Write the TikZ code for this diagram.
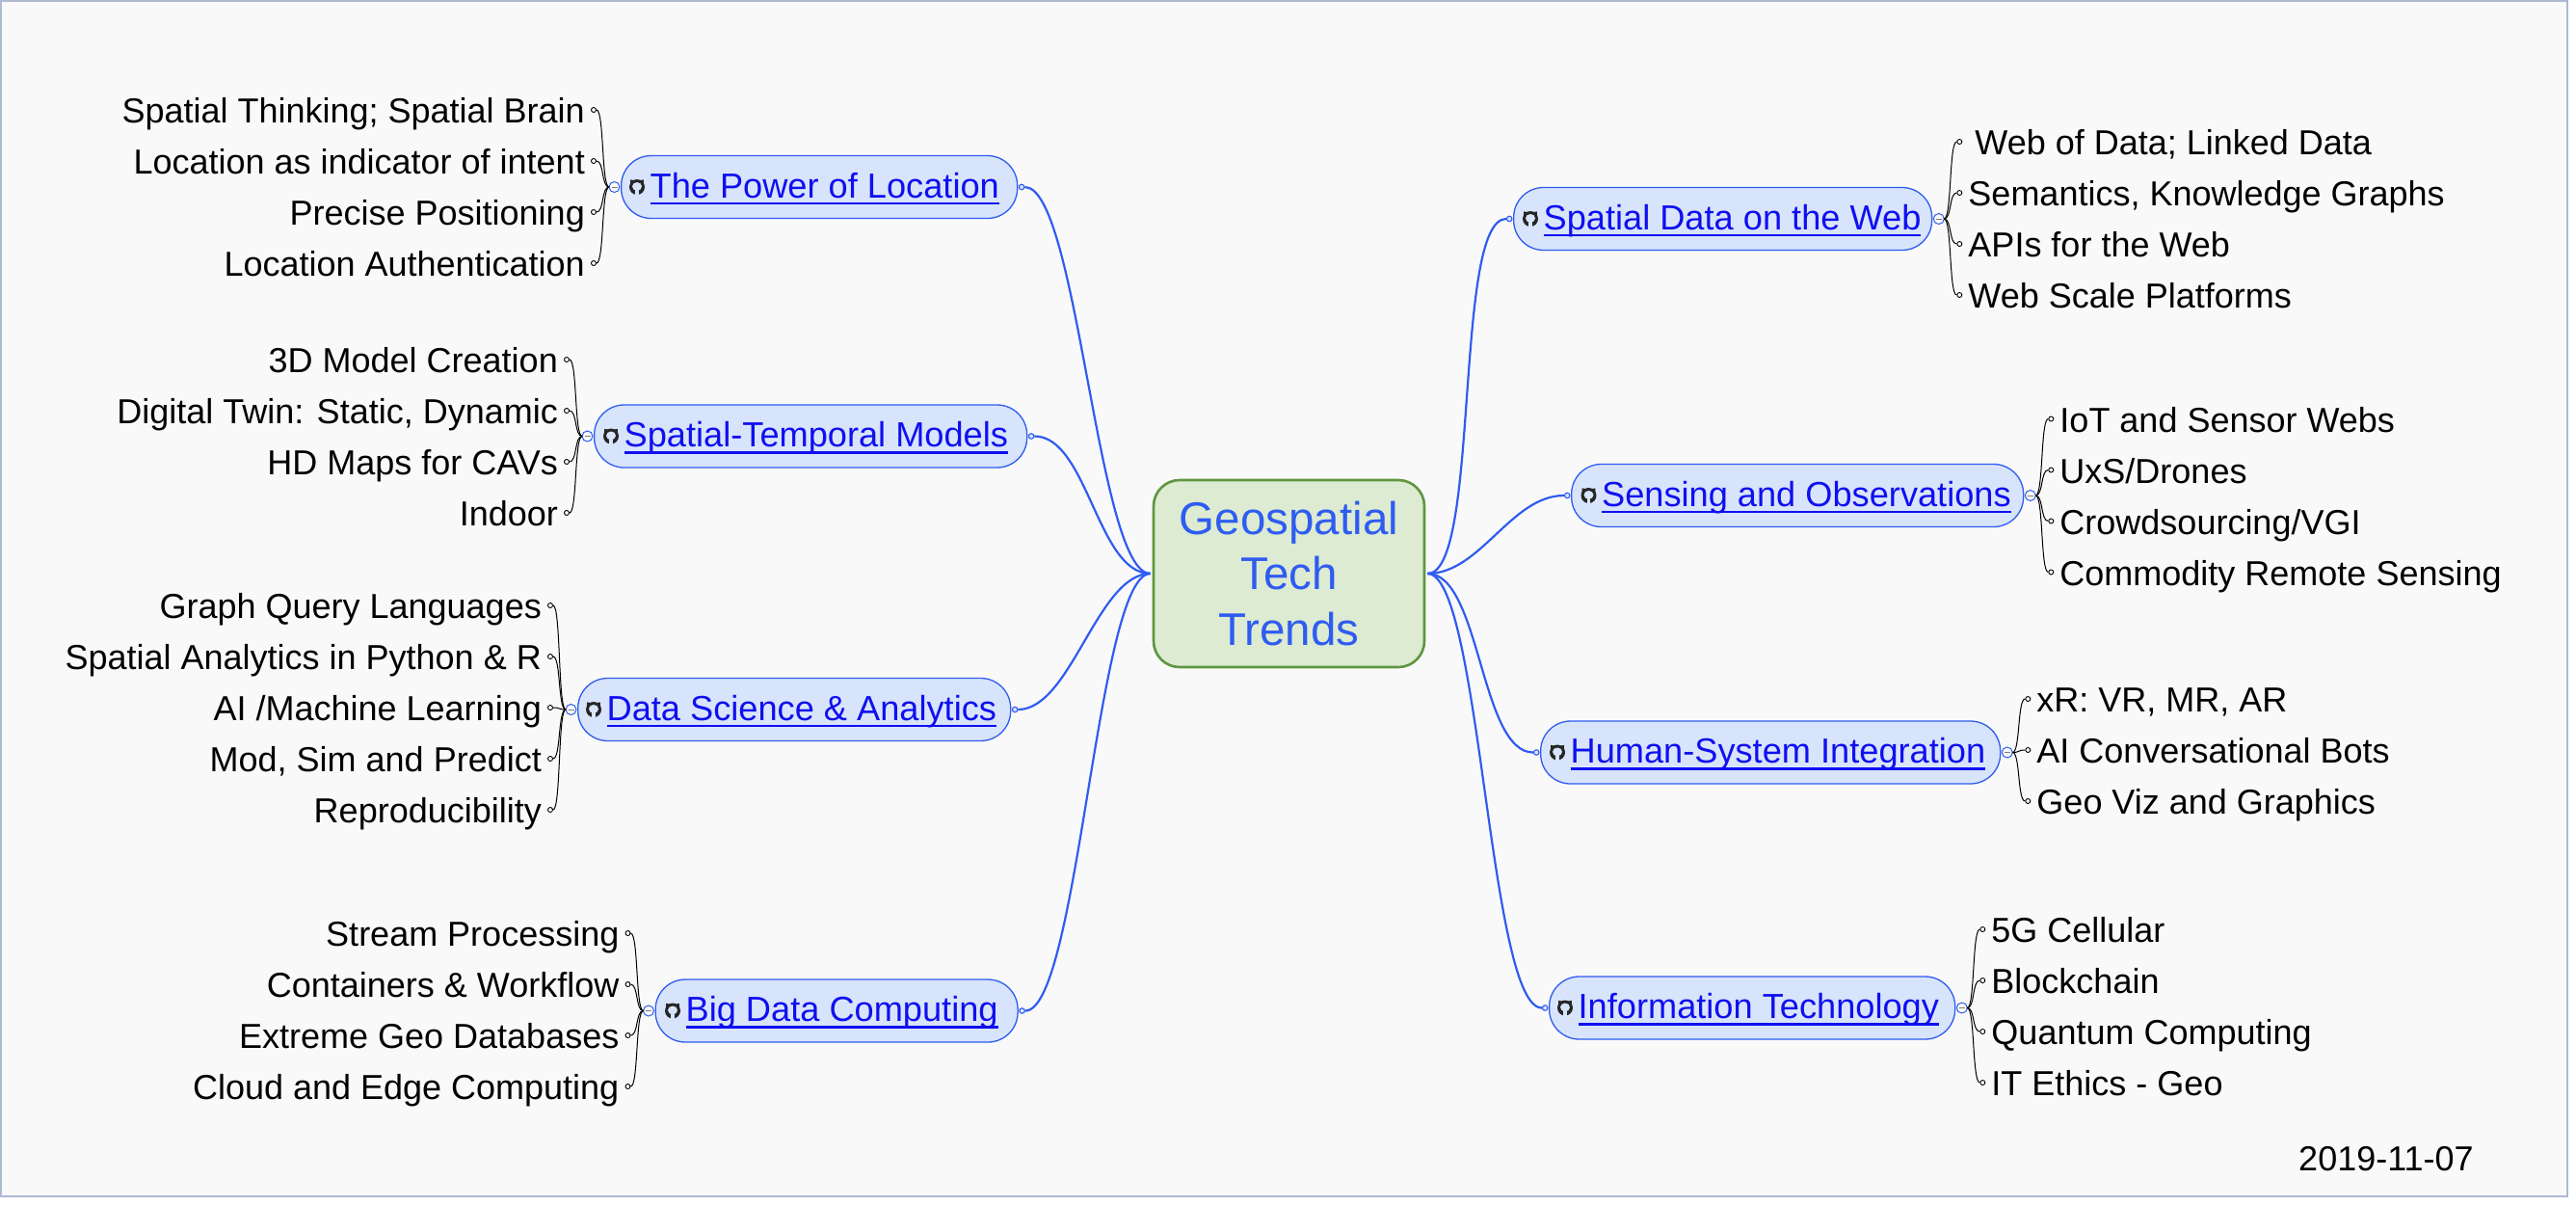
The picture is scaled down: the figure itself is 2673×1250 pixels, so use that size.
\documentclass[tikz,border=0pt]{standalone}
\usepackage{fontspec}
\setmainfont{Liberation Sans}
\definecolor{bgc}{HTML}{F9F9F9}
\definecolor{framec}{HTML}{AEB9D3}
\definecolor{linkc}{HTML}{0F0FF0}
\definecolor{lineb}{HTML}{2F5CF0}
\definecolor{fillb}{HTML}{D8E4FB}
\definecolor{fillc}{HTML}{DCEBD2}
\definecolor{edgec}{HTML}{5E9640}
\tikzset{
  x=1pt,y=-1pt,
  branchbox/.style={draw=lineb,fill=fillb,line width=1.3pt,rounded corners=31pt,minimum height=65pt,inner sep=0pt,anchor=west,text height=27pt,text depth=5pt,text=linkc,font=\fontsize{36.2}{40}\selectfont},
  centerbox/.style={draw=edgec,fill=fillc,line width=2.6pt,rounded corners=27pt,minimum width=281pt,minimum height=194pt,inner sep=0pt,align=center,text=lineb,font=\fontsize{47.5}{57.5}\selectfont},
  leaftext/.style={inner sep=0pt,font=\fontsize{36}{40}\selectfont,text=black},
  leafdot/.style={circle,draw=black,fill=white,line width=.9pt,inner sep=0pt,minimum size=5pt},
  attachdot/.style={circle,draw=lineb,fill=fillb,line width=1.1pt,inner sep=0pt,minimum size=5.5pt},
  foldbtn/.style={circle,draw=lineb,fill=bgc,line width=1pt,inner sep=0pt,minimum size=11pt},
  leafline/.style={draw=black,line width=1pt},
  mainline/.style={draw=lineb,line width=2.2pt},
}
\newcommand{\ulink}[1]{\setbox0\hbox{#1}\rlap{\rule[-7pt]{\wd0}{2.2pt}}\box0}
\newcommand{\ghicon}[2]{%
  \begin{scope}[shift={(#1,#2)}]
    \fill[black!85] (0,0) circle (8pt);
    \fill[black!85] (-6.8,-7.6) -- (-2.5,-6.8) -- (-6.8,-2.5) -- cycle;
    \fill[black!85] (6.8,-7.6) -- (2.5,-6.8) -- (6.8,-2.5) -- cycle;
    \fill[fillb] (0,-.6) ellipse (5pt and 4.4pt);
    \fill[fillb] (-1.6,2) rectangle (1.6,8.5);
  \end{scope}}
% name, left x, width, centre y, text offset, text
\newcommand{\branch}[6]{%
  \node[branchbox] (#1) at (#2,#4) {\makebox[#3pt][l]{\hspace*{#5pt}\ulink{#6}}};
  \pgfmathsetmacro{\iconx}{#2+#5-13}
  \ghicon{\iconx}{#4}}
\newcommand{\foldL}[1]{%
  \node[foldbtn,anchor=east] (#1f) at ([xshift=-.5pt]#1.west) {};
  \draw[gray,line width=.8pt] ([xshift=-3pt]#1f.center) -- ([xshift=3pt]#1f.center);
  \coordinate (#1h) at ([xshift=-12pt]#1.west);
  \node[attachdot,anchor=west] (#1a) at ([xshift=.5pt]#1.east) {};}
\newcommand{\foldR}[1]{%
  \node[foldbtn,anchor=west] (#1f) at ([xshift=.5pt]#1.east) {};
  \draw[gray,line width=.8pt] ([xshift=-3pt]#1f.center) -- ([xshift=3pt]#1f.center);
  \coordinate (#1h) at ([xshift=12pt]#1.east);
  \node[attachdot,anchor=east] (#1a) at ([xshift=-.5pt]#1.west) {};}
% name, hub, y, text
\newcommand{\leafL}[4]{%
  \node[leafdot] (#1d) at ([xshift=-16pt]#2h |- 0,#3) {};
  \node[leaftext,anchor=base east] (#1) at ([xshift=-6pt,yshift=-13.5pt]#1d.west) {#4};
  \draw[leafline] (#2h) .. controls +(-8,0) and +(8,0) .. (#1d.east);}
\newcommand{\leafR}[4]{%
  \node[leafdot] (#1d) at ([xshift=16pt]#2h |- 0,#3) {};
  \node[leaftext,anchor=base west] (#1) at ([xshift=6pt,yshift=-13.5pt]#1d.east) {#4};
  \draw[leafline] (#2h) .. controls +(8,0) and +(-8,0) .. (#1d.west);}
\begin{document}
\begin{tikzpicture}
\useasboundingbox (0,0) rectangle (2673,1250);
\fill[white] (0,0) rectangle (2673,1250);
\draw[fill=bgc,draw=framec,line width=1.5pt] (1,1) rectangle (2664,1241);

\node[centerbox] (geo) at (1337.5,595) {Geospatial\\Tech\\Trends};
\coordinate (geoL) at ([xshift=-2pt]geo.west);
\coordinate (geoR) at ([xshift=2pt]geo.east);

\branch{power}{644}{411}{194}{30}{The Power of Location}
\branch{stm}{616}{449}{452.5}{31}{Spatial-Temporal Models}
\branch{dsa}{599}{449}{736}{30}{Data Science \& Analytics}
\branch{bdc}{679.5}{376}{1048.5}{31.5}{Big Data Computing}
\branch{web}{1570}{434}{227}{31}{Spatial Data on the Web}
\branch{sen}{1630}{469}{514}{31.5}{Sensing and Observations}
\branch{hsi}{1598}{477}{780.5}{31}{Human-System Integration}
\branch{ite}{1607}{421}{1045.5}{30}{Information Technology}

\foldL{power}\foldL{stm}\foldL{dsa}\foldL{bdc}
\foldR{web}\foldR{sen}\foldR{hsi}\foldR{ite}

\foreach \b in {power,stm,dsa,bdc}
  \draw[mainline] (geoL) .. controls +(-55,0) and +(55,0) .. (\b a.east);
\foreach \b in {web,sen,hsi,ite}
  \draw[mainline] (geoR) .. controls +(55,0) and +(-55,0) .. (\b a.west);

\leafL{p1}{power}{114}{Spatial Thinking; Spatial Brain}
\leafL{p2}{power}{167}{Location as indicator of intent}
\leafL{p3}{power}{220}{Precise Positioning}
\leafL{p4}{power}{273}{Location Authentication}

\leafL{s1}{stm}{373}{3D Model Creation}
\leafL{s2}{stm}{426}{Digital Twin: Static, Dynamic}
\leafL{s3}{stm}{479}{HD Maps for CAVs}
\leafL{s4}{stm}{532}{Indoor}

\leafL{d1}{dsa}{628}{Graph Query Languages}
\leafL{d2}{dsa}{681}{Spatial Analytics in Python \& R}
\leafL{d3}{dsa}{734}{AI /Machine Learning}
\leafL{d4}{dsa}{787}{Mod, Sim and Predict}
\leafL{d5}{dsa}{840}{Reproducibility}

\leafL{b1}{bdc}{968}{Stream Processing}
\leafL{b2}{bdc}{1021}{Containers \& Workflow}
\leafL{b3}{bdc}{1074}{Extreme Geo Databases}
\leafL{b4}{bdc}{1127}{Cloud and Edge Computing}

\leafR{w1}{web}{147}{\hspace*{7pt}Web of Data; Linked Data}
\leafR{w2}{web}{200}{Semantics, Knowledge Graphs}
\leafR{w3}{web}{253}{APIs for the Web}
\leafR{w4}{web}{306}{Web Scale Platforms}

\leafR{e1}{sen}{434.5}{IoT and Sensor Webs}
\leafR{e2}{sen}{487.5}{UxS/Drones}
\leafR{e3}{sen}{540.5}{Crowdsourcing/VGI}
\leafR{e4}{sen}{593.5}{Commodity Remote Sensing}

\leafR{h1}{hsi}{725}{xR: VR, MR, AR}
\leafR{h2}{hsi}{778}{AI Conversational Bots}
\leafR{h3}{hsi}{831}{Geo Viz and Graphics}

\leafR{i1}{ite}{964}{5G Cellular}
\leafR{i2}{ite}{1017}{Blockchain}
\leafR{i3}{ite}{1070}{Quantum Computing}
\leafR{i4}{ite}{1123}{IT Ethics - Geo}

\node[leaftext,anchor=base west] (date) at (2385,1214) {2019-11-07};
\end{tikzpicture}
\end{document}
